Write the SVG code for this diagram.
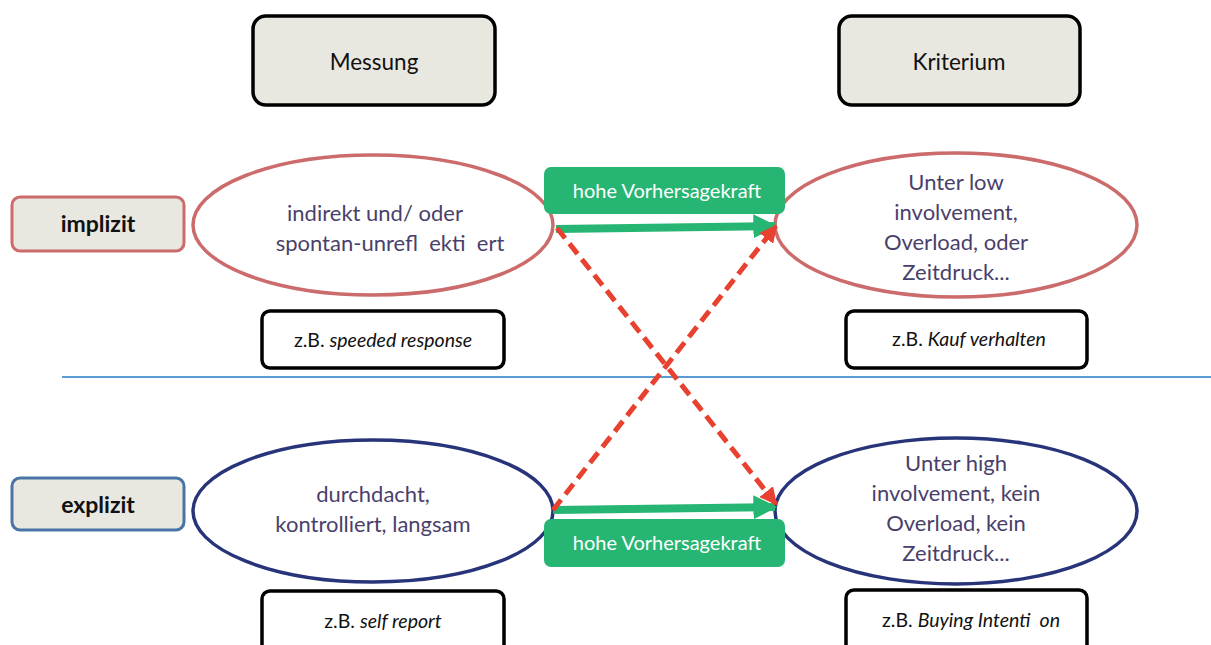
<svg xmlns="http://www.w3.org/2000/svg" width="1211" height="645" viewBox="0 0 1211 645">
<defs>
<style>
.hdr{fill:#e9e8e0;stroke:#000;stroke-width:3.5}
.side{fill:#e9e8e0;stroke-width:3}
.ell{fill:#fff;stroke-width:3.5}
.ex{fill:#fff;stroke:#000;stroke-width:3.5}
.gbox{fill:#27b573}
text{font-family:Lato,"Open Sans","Liberation Sans",sans-serif;text-anchor:middle}
.t1{font-size:22.5px;fill:#111}
.t2{font-size:23px;font-weight:bold;fill:#111}
.t3{font-size:22px;fill:#4a3f6b}
.t4{font-size:19.5px;fill:#111}
.t5{font-size:20px;fill:#fff}
.red{stroke:#e8412f;stroke-width:5;stroke-dasharray:13,7;fill:none}
.grn{stroke:#27b573;stroke-width:8;fill:none}
</style>
<marker id="ga" viewBox="0 0 10 10" refX="9" refY="5" markerWidth="3" markerHeight="3" orient="auto" markerUnits="strokeWidth"><path d="M0,0 L10,5 L0,10 z" fill="#27b573"/></marker>
<marker id="ra" viewBox="0 0 10 10" refX="9" refY="5" markerWidth="3.5" markerHeight="3.5" orient="auto" markerUnits="strokeWidth"><path d="M0,0 L10,5 L0,10 z" fill="#e8412f"/></marker>
</defs>
<rect width="1211" height="645" fill="#fff"/>
<line x1="62" y1="377" x2="1211" y2="377" stroke="#5b9bd5" stroke-width="2"/>

<g id="messung"><rect class="hdr" x="253" y="16" width="242" height="89" rx="13"/><text class="t1" x="374" y="70">Messung</text></g>
<g id="kriterium"><rect class="hdr" x="839" y="16" width="241" height="89" rx="13"/><text class="t1" x="959" y="70">Kriterium</text></g>

<g id="implizit"><rect class="side" stroke="#cc6b6b" x="12" y="197" width="172" height="54" rx="8"/><text class="t2" x="98" y="232">implizit</text></g>
<g id="explizit"><rect class="side" stroke="#4a74a5" x="12" y="478" width="172" height="52" rx="8"/><text class="t2" x="98" y="513">explizit</text></g>

<g id="impl-mess"><ellipse class="ell" stroke="#cc6b6b" cx="373" cy="225" rx="180" ry="70"/>
<text class="t3" x="375" y="221">indirekt und/ oder</text><text class="t3" x="390" y="251" xml:space="preserve">spontan-unrefl  ekti  ert</text></g>
<g id="impl-krit"><ellipse class="ell" stroke="#cc6b6b" cx="956" cy="225" rx="181" ry="72"/>
<text class="t3" x="956" y="190">Unter low</text><text class="t3" x="956" y="220">involvement,</text><text class="t3" x="956" y="250">Overload, oder</text><text class="t3" x="956" y="280">Zeitdruck...</text></g>
<g id="expl-mess"><ellipse class="ell" stroke="#28347a" cx="373" cy="511" rx="180" ry="71"/>
<text class="t3" x="373" y="502">durchdacht,</text><text class="t3" x="373" y="532">kontrolliert, langsam</text></g>
<g id="expl-krit"><ellipse class="ell" stroke="#28347a" cx="956" cy="511" rx="181" ry="73"/>
<text class="t3" x="956" y="471">Unter high</text><text class="t3" x="956" y="501">involvement, kein</text><text class="t3" x="956" y="531">Overload, kein</text><text class="t3" x="956" y="561">Zeitdruck...</text></g>

<g id="ex1"><rect class="ex" x="262" y="311" width="242" height="57" rx="8"/><text class="t4" x="383" y="347">z.B. <tspan font-style="italic">speeded response</tspan></text></g>
<g id="ex2"><rect class="ex" x="846" y="311" width="241" height="57" rx="8"/><text class="t4" x="969" y="346">z.B. <tspan font-style="italic">Kauf verhalten</tspan></text></g>
<g id="ex3"><rect class="ex" x="262" y="591" width="242" height="70" rx="8"/><text class="t4" x="383" y="628">z.B. <tspan font-style="italic">self report</tspan></text></g>
<g id="ex4"><rect class="ex" x="846" y="590" width="241" height="70" rx="8"/><text class="t4" x="971" y="627" xml:space="preserve">z.B. <tspan font-style="italic">Buying Intenti  on</tspan></text></g>

<g id="connectors">
<line class="grn" x1="556" y1="229" x2="775" y2="226" marker-end="url(#ga)"/>
<line class="grn" x1="553" y1="510" x2="775" y2="507" marker-end="url(#ga)"/>
<line class="red" x1="557" y1="228" x2="776" y2="504" marker-end="url(#ra)"/>
<line class="red" x1="553" y1="510" x2="776" y2="226" marker-end="url(#ra)"/>
</g>

<g id="g-top"><rect class="gbox" x="544" y="167" width="241" height="47" rx="7"/><text class="t5" x="667" y="198">hohe Vorhersagekraft</text></g>
<g id="g-bot"><rect class="gbox" x="544" y="519" width="241" height="48" rx="7"/><text class="t5" x="667" y="550">hohe Vorhersagekraft</text></g>
</svg>
